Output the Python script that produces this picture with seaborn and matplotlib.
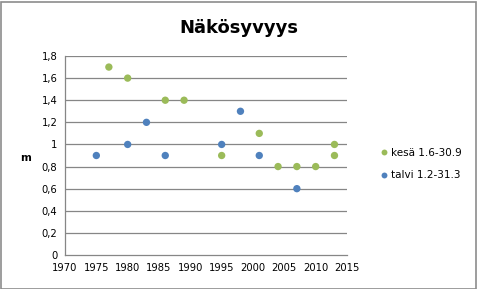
import matplotlib
matplotlib.use("Agg")
import matplotlib.pyplot as plt
import matplotlib.patches as mpatches
import seaborn as sns
import pandas as pd

# Data
kesa_years = [1977, 1980, 1986, 1989, 1995, 2001, 2004, 2007, 2010, 2013, 2013]
kesa_vals = [1.7, 1.6, 1.4, 1.4, 0.9, 1.1, 0.8, 0.8, 0.8, 1.0, 0.9]
talvi_years = [1975, 1980, 1983, 1986, 1995, 1998, 2001, 2007]
talvi_vals = [0.9, 1.0, 1.2, 0.9, 1.0, 1.3, 0.9, 0.6]
series_names = ["kesä 1.6-30.9", "talvi 1.2-31.3"]
x_ticks = list(range(1970, 2016, 5))
y_ticks = [0, 0.2, 0.4, 0.6, 0.8, 1.0, 1.2, 1.4, 1.6, 1.8]
y_labels = ["0", "0,2", "0,4", "0,6", "0,8", "1", "1,2", "1,4", "1,6", "1,8"]
title = "Näkösyvyys"
y_title = "m"

df = pd.DataFrame({
    "year": kesa_years + talvi_years,
    "value": kesa_vals + talvi_vals,
    "series": [series_names[0]] * len(kesa_years) + [series_names[1]] * len(talvi_years),
})

sns.set_theme(style="white")
plt.rcParams['font.family'] = ['DejaVu Sans']
plt.rcParams['text.color'] = 'black'
plt.rcParams['axes.labelcolor'] = 'black'

fig = plt.figure(figsize=(4.78, 2.89), dpi=100)
ax = fig.add_axes([65 / 478, 1 - 255 / 289, 282 / 478, 199 / 289])

palette = {series_names[0]: "#9BBB59", series_names[1]: "#4F81BD"}
sns.scatterplot(data=df, x="year", y="value", hue="series", palette=palette,
                s=28, edgecolor="none", linewidth=0, ax=ax, legend=True, zorder=3)

ax.set_xlim(1970, 2015)
ax.set_ylim(0, 1.8)
ax.set_xticks(x_ticks)
ax.set_xticklabels([str(t) for t in x_ticks], fontsize=7.2, color="#000000")
ax.set_yticks(y_ticks)
ax.set_yticklabels(y_labels, fontsize=7.2, color="#000000")
ax.set_xlabel("")
ax.set_ylabel("")
for y in y_ticks[1:]:
    ax.axhline(y, color="#868686", linewidth=0.9, zorder=1)

for side in ["top", "right"]:
    ax.spines[side].set_visible(False)
for side in ["left", "bottom"]:
    ax.spines[side].set_color("#868686")
    ax.spines[side].set_linewidth(0.9)
ax.tick_params(axis="both", direction="out", length=3.5, width=0.9, color="#868686", pad=2)

fig.text(239 / 478, 1 - 28 / 289, title, ha="center", va="center",
         fontsize=13, fontweight="bold", color="black")
fig.text(26 / 478, 1 - 158 / 289, y_title, ha="center", va="center",
         fontsize=7.5, fontweight="bold", color="black")

leg = ax.legend(loc="center left", bbox_to_anchor=(374 / 478, 1 - 164 / 289),
                bbox_transform=fig.transFigure, frameon=False, fontsize=7.5,
                handletextpad=0.0, labelspacing=1.2, markerscale=0.8,
                borderaxespad=0, handlelength=1.2)
for t in leg.get_texts():
    t.set_color("black")

fig.patches.append(mpatches.Rectangle((0.5 / 478, 0.5 / 289), 1 - 3 / 478, 1 - 2 / 289,
                                      transform=fig.transFigure, fill=False,
                                      edgecolor="#8c8c8c", linewidth=1.2))

fig.savefig("out.png", dpi=100)
